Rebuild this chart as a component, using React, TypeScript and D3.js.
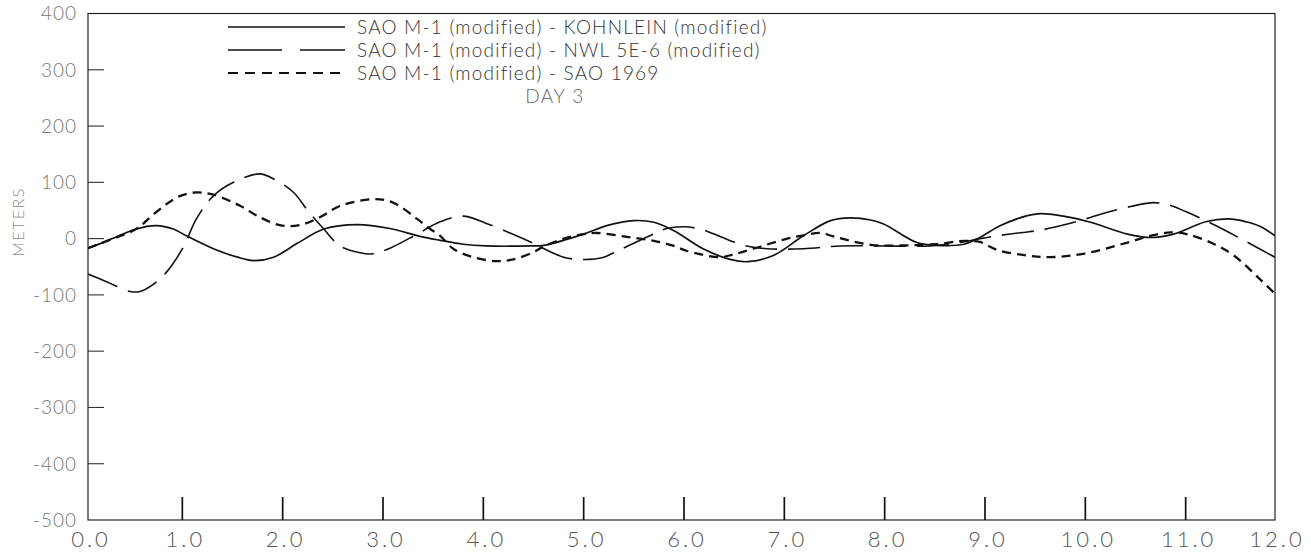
import React from "react";
import * as d3 from "d3";

// ---- axis ticks ----
const xTickValues = [0, 1, 2, 3, 4, 5, 6, 7, 8, 9, 10, 11, 12];
const xTickLabels = ["0.0", "1.0", "2.0", "3.0", "4.0", "5.0", "6.0", "7.0", "8.0", "9.0", "10.0", "11.0", "12.0"];
const yTickValues = [400, 300, 200, 100, 0, -100, -200, -300, -400, -500];
const yTickLabels = ["400", "300", "200", "100", "0", "-100", "-200", "-300", "-400", "-500"];

// ---- legend / titles ----
const seriesNames = [
  "SAO M-1 (modified) - KOHNLEIN (modified)",
  "SAO M-1 (modified) - NWL 5E-6 (modified)",
  "SAO M-1 (modified) - SAO 1969",
];
const dayLabel = "DAY 3";
const yAxisTitle = "METERS";

// ---- series: SAO M-1 - KOHNLEIN (solid) ----
const kohnleinX = [0.06, 0.25, 0.54, 0.74, 0.91, 1.04, 1.31, 1.55, 1.71, 1.91, 2.15, 2.41, 2.74, 3.07, 3.37, 3.57, 3.8, 4.03, 4.47, 4.6, 5.0, 5.23, 5.5, 5.7, 5.9, 6.19, 6.46, 6.63, 6.89, 7.19, 7.46, 7.66, 7.86, 7.99, 8.32, 8.52, 8.79, 8.95, 9.15, 9.52, 9.78, 10.05, 10.42, 10.65, 10.88, 11.2, 11.43, 11.6, 11.74, 11.89];
const kohnleinY = [-17, -4, 17, 23, 17, 5, -18, -33, -39, -33, -8, 17, 25, 18, 4, -3, -10, -13, -13, -12, 8, 23, 32, 29, 14, -18, -37, -41, -30, 5, 32, 37, 33, 26, -7, -12, -10, 2, 23, 44, 40, 29, 8, 2, 8, 30, 35, 30, 22, 5];

// ---- series: SAO M-1 - NWL 5E-6 (long dash) ----
const nwlX = [0.06, 0.25, 0.48, 0.58, 0.68, 0.84, 1.01, 1.14, 1.31, 1.51, 1.77, 1.91, 2.11, 2.24, 2.41, 2.57, 2.77, 2.9, 3.07, 3.34, 3.57, 3.8, 4.03, 4.33, 4.47, 4.8, 5.0, 5.2, 5.3, 5.66, 5.83, 6.0, 6.16, 6.26, 6.6, 6.83, 7.19, 7.56, 8.0, 8.45, 8.78, 8.95, 9.12, 9.38, 9.55, 9.8, 10.0, 10.2, 10.45, 10.68, 10.85, 11.0, 11.2, 11.4, 11.6, 11.89];
const nwlY = [-63, -77, -94, -94, -85, -60, -15, 35, 76, 100, 115, 106, 82, 52, 17, -13, -25, -27, -17, 8, 30, 40, 27, 5, -6, -33, -37, -33, -25, 5, 18, 21, 17, 11, -12, -18, -18, -13, -13, -13, -6, 0, 5, 11, 15, 25, 35, 46, 57, 64, 59, 48, 32, 14, -5, -33];

// ---- series: SAO M-1 - SAO 1969 (short dash) ----
const sao1969X = [0.06, 0.25, 0.54, 0.68, 0.84, 0.98, 1.14, 1.31, 1.58, 1.74, 1.97, 2.17, 2.37, 2.57, 2.9, 3.1, 3.34, 3.47, 3.57, 3.7, 3.9, 4.13, 4.3, 4.5, 4.6, 4.8, 5.0, 5.13, 5.43, 5.7, 5.9, 6.03, 6.36, 6.49, 6.69, 7.03, 7.2, 7.36, 7.49, 7.86, 8.2, 8.5, 8.8, 8.95, 9.12, 9.42, 9.65, 9.98, 10.42, 10.65, 10.85, 11.01, 11.25, 11.48, 11.74, 11.89];
const sao1969Y = [-17, -4, 17, 38, 61, 76, 82, 78, 58, 41, 24, 24, 38, 58, 70, 64, 35, 17, 5, -18, -33, -40, -37, -24, -14, 0, 8, 10, 3, -4, -13, -22, -33, -28, -18, 0, 6, 10, 4, -11, -12, -10, -4, -6, -20, -30, -33, -27, -7, 5, 11, 8, -7, -30, -72, -98];

const W = 1311;
const H = 556;
const frame = { left: 88, right: 1275, top: 13.5, bottom: 520 };

const FONT = "Lato, 'Open Sans', sans-serif";

export default function App() {
  const x = d3.scaleLinear().domain([0, 12]).range([82, 1286]);
  const y = d3.scaleLinear().domain([-500, 400]).range([frame.bottom, frame.top]);

  const line = d3
    .line<[number, number]>()
    .x((d) => x(d[0]))
    .y((d) => y(d[1]))
    .curve(d3.curveCatmullRom.alpha(0.5));

  const zip = (xs: number[], ys: number[]) => xs.map((v, i) => [v, ys[i]] as [number, number]);

  const series = [
    { pts: zip(kohnleinX, kohnleinY), dash: "none", width: 1.7 },
    { pts: zip(nwlX, nwlY), dash: "32,11", width: 1.6 },
    { pts: zip(sao1969X, sao1969Y), dash: "9,6", width: 2.3 },
  ];
  const legendDash = ["none", "54,18", "10,7"];
  const legendRowY = [27, 50, 73];

  return (
    <svg
      width={W}
      height={H}
      viewBox={`0 0 ${W} ${H}`}
      style={{ position: "absolute", left: 0, top: 0, background: "#fff" }}
    >
      <defs>
        <clipPath id="plotclip">
          <rect x={frame.left} y={frame.top} width={frame.right - frame.left} height={frame.bottom - frame.top} />
        </clipPath>
      </defs>

      {/* frame */}
      <rect
        x={frame.left}
        y={frame.top}
        width={frame.right - frame.left}
        height={frame.bottom - frame.top}
        fill="none"
        stroke="#222"
        strokeWidth={1.2}
      />

      {/* y ticks */}
      {yTickValues.map((v, i) =>
        v === 400 || v === -500 ? null : (
          <line key={"yt" + i} x1={frame.left} x2={frame.left + 16} y1={y(v)} y2={y(v)} stroke="#333" strokeWidth={1.1} />
        )
      )}
      {yTickValues.map((v, i) => (
        <text
          key={"yl" + i}
          x={frame.left - 11}
          y={y(v)}
          dy="0.36em"
          textAnchor="end"
          fontFamily={FONT}
          fontWeight={300}
          fontSize={19}
          letterSpacing={1}
          fill="#777"
        >
          {yTickLabels[i]}
        </text>
      ))}

      {/* x ticks */}
      {xTickValues.map((v, i) =>
        v === 0 || v === 12 ? null : (
          <line key={"xt" + i} x1={x(v)} x2={x(v)} y1={frame.bottom} y2={frame.bottom - 23} stroke="#111" strokeWidth={1.7} />
        )
      )}
      {xTickValues.map((v, i) => {
        const px = v === 0 ? frame.left + 3 : v === 12 ? frame.right + 2 : x(v) + 3;
        return (
          <text
            key={"xl" + i}
            x={px}
            y={539}
            dy="0.36em"
            textAnchor="middle"
            fontFamily={FONT}
            fontWeight={300}
            fontSize={22}
            letterSpacing={3}
            fill="#555"
          >
            {xTickLabels[i]}
          </text>
        );
      })}

      {/* y axis title */}
      <text
        transform={`translate(18,222) rotate(-90)`}
        textAnchor="middle"
        dy="0.36em"
        fontFamily={FONT}
        fontWeight={300}
        fontSize={16}
        letterSpacing={1.5}
        fill="#888"
      >
        {yAxisTitle}
      </text>

      {/* data */}
      <g clipPath="url(#plotclip)">
        {series.map((s, i) => (
          <path
            key={"s" + i}
            d={line(s.pts) || ""}
            fill="none"
            stroke="#111"
            strokeWidth={s.width}
            strokeDasharray={s.dash}
            strokeLinecap="butt"
          />
        ))}
      </g>

      {/* legend */}
      {seriesNames.map((name, i) => (
        <g key={"lg" + i}>
          <line
            x1={228}
            x2={345}
            y1={legendRowY[i]}
            y2={legendRowY[i]}
            stroke="#111"
            strokeWidth={i === 2 ? 2 : 1.5}
            strokeDasharray={legendDash[i]}
          />
          <text
            x={357}
            y={legendRowY[i]}
            dy="0.36em"
            fontFamily={FONT}
            fontWeight={300}
            fontSize={19}
            letterSpacing={1.2}
            fill="#333"
          >
            {name}
          </text>
        </g>
      ))}
      <text
        x={555}
        y={96}
        dy="0.36em"
        textAnchor="middle"
        fontFamily={FONT}
        fontWeight={300}
        fontSize={19}
        letterSpacing={1.5}
        fill="#666"
      >
        {dayLabel}
      </text>
    </svg>
  );
}
